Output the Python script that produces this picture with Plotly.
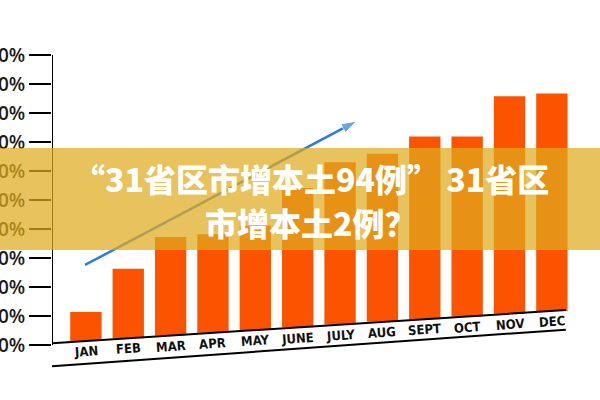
import plotly.graph_objects as go

# данные
months = ["JAN", "FEB", "MAR", "APR", "MAY", "JUNE", "JULY", "AUG", "SEPT", "OCT", "NOV", "DEC"]
values = [10, 24, 34, 34, 36, 48, 56, 58, 63, 62, 75, 75]
y_ticks = [0, 10, 20, 30, 40, 50, 60, 70, 80, 90, 100]
y_labels = [f"{v}%" for v in y_ticks]
title_line1 = "“31省区市增本土94例” 31省区"
title_line2 = "市增本土2例？"

BAR_COLOR = "#FB5300"
BANNER = "rgba(223,170,29,0.72)"

# наклон "перспективы" основания столбцов
def tilt(x):
    return 1.4 + 0.94 * x

idx = list(range(len(months)))
bases = [tilt(i) for i in idx]

fig = go.Figure()

# стрелка тренда (под плашкой)
fig.add_trace(go.Scatter(
    x=[-0.02, 6.39], y=[27.6, 77.2],
    mode="lines+markers",
    line=dict(color="#2F7BDD", width=2.5),
    marker=dict(symbol="arrow", size=[0, 16], angleref="previous", color="#2F7BDD"),
    hoverinfo="skip", showlegend=False
))

fig.add_trace(go.Bar(
    x=idx, y=values, base=bases,
    width=0.74,
    marker=dict(color=BAR_COLOR, line=dict(width=0)),
    showlegend=False
))

shapes = [
    # ось Y
    dict(type="line", xref="x", yref="y", x0=-0.8, x1=-0.8, y0=0, y1=100,
         line=dict(color="black", width=2)),
    # наклонная линия основания
    dict(type="line", xref="x", yref="y", x0=-0.8, x1=11.33, y0=tilt(-0.8), y1=tilt(11.33),
         line=dict(color="black", width=2)),
    # нижняя линия под подписями
    dict(type="line", xref="x", yref="y", x0=-0.8, x1=11.33, y0=-7.3, y1=5.3,
         line=dict(color="black", width=2)),
    # полупрозрачная плашка
    dict(type="rect", xref="paper", yref="paper", x0=-0.1, x1=1.02, y0=0.379, y1=0.688,
         fillcolor=BANNER, line=dict(width=0), layer="above"),
]

annotations = []
for i, m in enumerate(months):
    annotations.append(dict(
        x=i, y=bases[i] - 3.7, xref="x", yref="y", text=m, showarrow=False,
        textangle=-4, xanchor="center", yanchor="middle",
        font=dict(family="Liberation Sans Narrow, DejaVu Sans Condensed, Roboto",
                  size=13, color="#111111", weight=600)
    ))

for txt, yy in [(title_line1, 0.597), (title_line2, 0.4636)]:
    annotations.append(dict(
        x=0.481, y=yy, xref="paper", yref="paper", text=txt, showarrow=False,
        xanchor="center", yanchor="middle",
        font=dict(family="Noto Sans CJK SC", size=32, color="white", weight=900)
    ))

fig.update_layout(
    width=600, height=400,
    margin=dict(l=52, r=10, t=45, b=25),
    plot_bgcolor="white", paper_bgcolor="white",
    shapes=shapes, annotations=annotations,
    xaxis=dict(range=[-0.8, 11.9], showticklabels=False, showgrid=False, zeroline=False,
               showline=False, ticks=""),
    yaxis=dict(range=[-10.34, 103.45], tickvals=y_ticks, ticktext=y_labels,
               showgrid=False, zeroline=False, showline=False, automargin=False,
               ticks="outside", ticklen=22, tickwidth=2, tickcolor="black",
               tickfont=dict(family="Open Sans", size=19, color="#1a1a1a", weight=600)),
)

fig.write_html("out.html", config={"displayModeBar": False},
               post_script="document.body.style.margin='0';document.body.style.overflow='hidden';")
